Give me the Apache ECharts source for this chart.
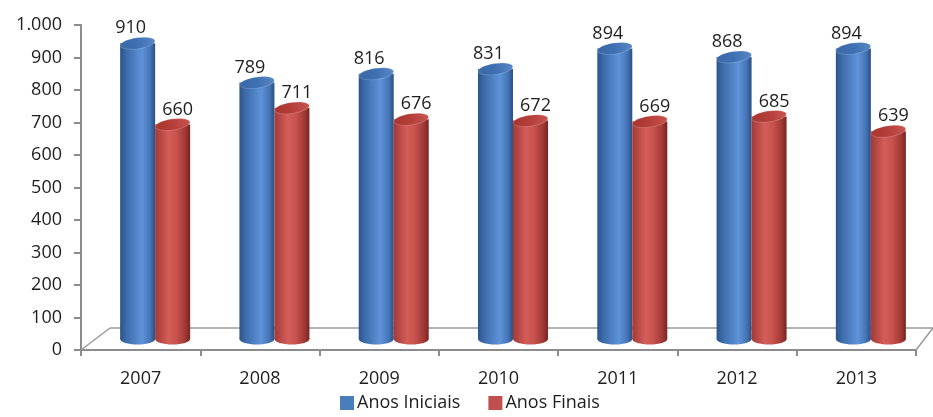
<!DOCTYPE html>
<html>
<head>
<meta charset="utf-8">
<script src="https://cdn.jsdelivr.net/npm/echarts@6/dist/echarts.min.js"></script>
<style>
  html, body { margin: 0; padding: 0; background: #ffffff; }
  #chart { width: 933px; height: 417px; }
</style>
</head>
<body>
<div id="chart"></div>
<script>
// Matrículas por ano: anos iniciais x anos finais
const years = ['2007', '2008', '2009', '2010', '2011', '2012', '2013'];
const anosIniciais = [910, 789, 816, 831, 894, 868, 894];
const anosFinais = [660, 711, 676, 672, 669, 685, 639];
const yMin = 0;
const yMax = 1000;
const yStep = 100;

const FONT = '"Open Sans", "Liberation Sans", sans-serif';
const AXIS_GRAY = '#8c8c8c';
const DEPTH_X = 29;        // floor depth on the left edge
const DEPTH_X_RIGHT = 17;  // floor depth on the right edge (perspective)
const DEPTH_Y = -22;       // floor depth, vertical shift
const CYL_W = 35;
const CYL_RY = 5.5;

const palettes = {
  blue: {
    legend: '#4a7ebb',
    body: [[0, '#2c5489'], [0.18, '#3d6cab'], [0.62, '#5e93d8'], [0.86, '#4574b6'], [1, '#2a4f82']],
    top: [[0, '#3a68a8'], [0.5, '#3f70b2'], [1, '#5a88c6']],
    label: -7
  },
  red: {
    legend: '#c0504d',
    body: [[0, '#a23a36'], [0.38, '#d35d59'], [0.6, '#c9534f'], [0.86, '#a03935'], [1, '#772422']],
    top: [[0, '#a8352f'], [0.5, '#b53f3a'], [1, '#c95550']],
    label: 5
  }
};

function grad(stops) {
  return new echarts.graphic.LinearGradient(0, 0, 1, 0,
    stops.map(s => ({ offset: s[0], color: s[1] })));
}

function cylinderRenderer(pal, side) {
  return function (params, api) {
    const idx = api.value(0);
    const val = api.value(1);
    const topPt = api.coord([idx, val]);
    const basePt = api.coord([idx, 0]);
    const cx = topPt[0] + DEPTH_X / 2 + side * CYL_W / 2;
    const topY = topPt[1] + DEPTH_Y / 2;
    const baseY = basePt[1] + DEPTH_Y / 2;
    const rx = CYL_W / 2;
    return {
      type: 'group',
      children: [
        {
          type: 'ellipse',
          shape: { cx: cx, cy: baseY, rx: rx, ry: CYL_RY },
          style: { fill: grad(pal.body) }
        },
        {
          type: 'rect',
          shape: { x: cx - rx, y: topY, width: CYL_W, height: baseY - topY },
          style: { fill: grad(pal.body) }
        },
        {
          type: 'ellipse',
          x: cx, y: topY,
          rotation: 0.14,
          shape: { cx: 0, cy: 0, rx: rx, ry: CYL_RY },
          style: { fill: grad(pal.top), stroke: 'rgba(255,255,255,0.18)', lineWidth: 1 }
        },
        {
          type: 'text',
          x: cx + pal.label,
          y: topY - 15,
          style: {
            text: String(val),
            fill: '#1e1e1e',
            font: '18px ' + FONT,
            align: 'center',
            verticalAlign: 'middle'
          }
        }
      ]
    };
  };
}

function floorRenderer(params, api) {
  const cs = params.coordSys;
  const x0 = cs.x, x1 = cs.x + cs.width, yb = cs.y + cs.height;
  const st = { stroke: '#9a9a9a', lineWidth: 1.5 };
  return {
    type: 'group',
    children: [
      { type: 'line', shape: { x1: x0, y1: yb, x2: x0 + DEPTH_X, y2: yb + DEPTH_Y }, style: st },
      { type: 'line', shape: { x1: x0 + DEPTH_X, y1: yb + DEPTH_Y, x2: x1 + DEPTH_X_RIGHT, y2: yb + DEPTH_Y }, style: st },
      { type: 'line', shape: { x1: x1, y1: yb, x2: x1 + DEPTH_X_RIGHT, y2: yb + DEPTH_Y }, style: st }
    ]
  };
}

const chart = echarts.init(document.getElementById('chart'), null, { renderer: 'canvas' });

chart.setOption({
  backgroundColor: '#ffffff',
  animation: false,
  textStyle: { fontFamily: FONT },
  grid: { left: 81, right: 17, top: 25, bottom: 67 },
  legend: {
    left: 335,
    top: 389,
    itemWidth: 14,
    itemHeight: 14,
    itemGap: 28,
    icon: 'rect',
    textStyle: { fontSize: 18, color: '#1e1e1e', fontFamily: FONT, padding: [0, 0, 0, -2] },
    data: ['Anos Iniciais', 'Anos Finais']
  },
  xAxis: {
    type: 'category',
    data: years,
    boundaryGap: true,
    axisLine: { lineStyle: { color: AXIS_GRAY, width: 2 } },
    axisTick: { show: true, length: 6, alignWithLabel: false, lineStyle: { color: AXIS_GRAY, width: 2 } },
    axisLabel: { fontSize: 18, color: '#1e1e1e', margin: 20, fontFamily: FONT },
    splitLine: { show: false }
  },
  yAxis: {
    type: 'value',
    min: yMin,
    max: yMax,
    interval: yStep,
    axisLine: { show: true, lineStyle: { color: AXIS_GRAY, width: 2 } },
    axisTick: { show: true, length: 7, lineStyle: { color: AXIS_GRAY, width: 2 } },
    axisLabel: {
      fontSize: 18,
      color: '#1e1e1e',
      margin: 19,
      fontFamily: FONT,
      padding: [5, 0, 0, 0],
      formatter: v => v >= 1000 ? String(v).replace(/(\d)(?=(\d{3})+$)/g, '$1.') : String(v)
    },
    splitLine: { show: false }
  },
  series: [
    {
      type: 'custom',
      name: 'floor',
      silent: true,
      renderItem: floorRenderer,
      data: [[0, 0]],
      z: 1
    },
    {
      type: 'custom',
      name: 'Anos Iniciais',
      itemStyle: { color: palettes.blue.legend },
      renderItem: cylinderRenderer(palettes.blue, -1),
      data: anosIniciais.map((v, i) => [i, v]),
      z: 3
    },
    {
      type: 'custom',
      name: 'Anos Finais',
      itemStyle: { color: palettes.red.legend },
      renderItem: cylinderRenderer(palettes.red, 1),
      data: anosFinais.map((v, i) => [i, v]),
      z: 4
    }
  ]
});
</script>
</body>
</html>
